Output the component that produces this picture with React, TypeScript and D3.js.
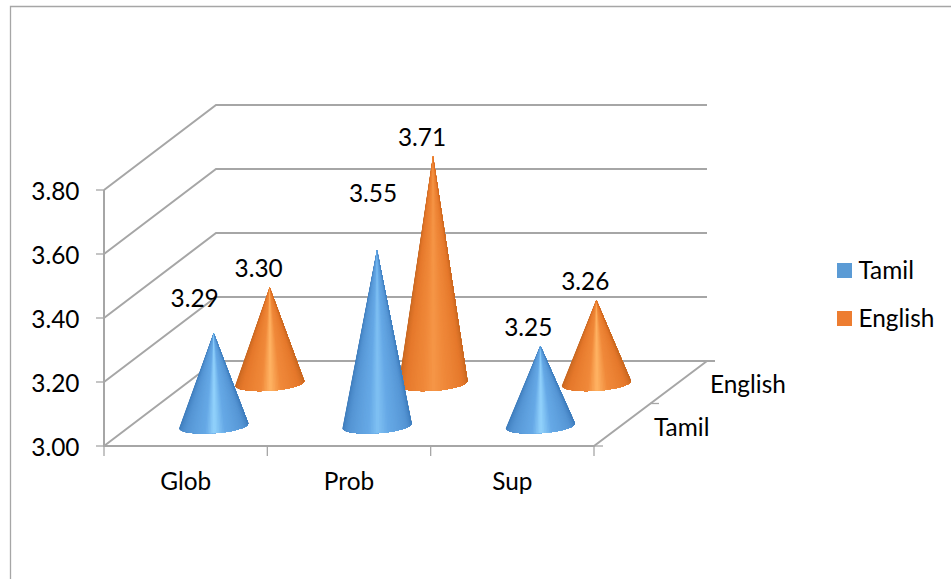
import React from "react";
import * as d3 from "d3";

const categories = ["Glob", "Prob", "Sup"];
const seriesNames = ["Tamil", "English"];
const tamilValues = [3.29, 3.55, 3.25];
const englishValues = [3.3, 3.71, 3.26];
const yTicks = [3.0, 3.2, 3.4, 3.6, 3.8];

// Data label displacement from each cone's apex, [dx, dy] per category.
const tamilLabelOffsets = [[-19, -26], [-4, -48], [-12, -10]];
const englishLabelOffsets = [[-11, -10], [-11, -10], [-11, -10]];

const GRID = "#a6a6a6";
const FONT = "Lato, Carlito, sans-serif";
const FS = 24.4;

// Oblique projection of the 3-D box: the front plane plus a depth shift.
const y3 = d3.scaleLinear().domain([3.0, 3.8]).range([446, 190]);
const xFront = d3.scaleLinear().domain([0, 3]).range([104, 594]);
const depthX = d3.scaleLinear().domain([0, 1]).range([0, 112]);
const depthY = d3.scaleLinear().domain([0, 1]).range([0, -85]);

const coneRadius = 34.5;
const coneRy = 7.5;
const coneTilt = -0.07;
const coneLift = 1;
const fanSlices = 64;

const seriesDepth = [0.25, 0.75];
const seriesSwatch = ["#5b9bd5", "#ed7d31"];
const seriesData = [tamilValues, englishValues];
const seriesOffsets = [tamilLabelOffsets, englishLabelOffsets];

// Edge, body and highlight tones of the metallic cone shading, per series.
const edgeTones = ["#3a78b8", "#c2641e"];
const bodyTones = ["#5595d4", "#e5782b"];
const midTones = ["#66a9e6", "#f0893a"];
const glowTones = ["#93d3fc", "#ffb464"];

// Shaded surface of a cone: a fan of thin triangles from the apex to the front
// half of its tilted elliptical base, tinted by angle around the axis. Each
// triangle runs under the next one so no seams show between them.
function Cone({ si, cx, cy, apexY }: { si: number; cx: number; cy: number; apexY: number }) {
  const height = cy - apexY;
  // Taller cones have a weaker specular streak.
  const glow = d3.interpolateRgb(glowTones[si], midTones[si])(
    Math.min(0.75, Math.max(0, (height - 95) / 190))
  );
  const shade = d3
    .scaleLinear<string>()
    .domain([0, 0.2, 0.42, 0.5, 0.6, 0.82, 1])
    .range([edgeTones[si], bodyTones[si], midTones[si], glow, midTones[si], bodyTones[si], edgeTones[si]])
    .interpolate(d3.interpolateRgb);

  const rim = (t: number): [number, number] => {
    const a = Math.PI * (1 - t);
    const ex = coneRadius * Math.cos(a);
    const ey = coneRy * Math.sin(a);
    return [cx + ex - ey * coneTilt, cy + ey + ex * coneTilt];
  };

  return (
    <g>
      {d3.range(fanSlices).map((k) => {
        const t0 = k / fanSlices;
        // The rest of the rim is included so later slices paint over this one.
        const rimPts = d3
          .range(k, fanSlices + 1)
          .map((j) => rim(j / fanSlices).join(","))
          .join("L");
        return (
          <path
            key={k}
            d={`M${cx},${apexY}L${rimPts}Z`}
            fill={shade(t0 + 0.5 / fanSlices)}
          />
        );
      })}
    </g>
  );
}

export default function App() {
  const dx = depthX(1);
  const dy = depthY(1);
  const base = y3(3.0);
  const right = xFront(3);
  const backRight = right + dx + 1;

  return (
    <svg
      width={951}
      height={579}
      viewBox="0 0 951 579"
      style={{ position: "fixed", left: 0, top: 0, background: "#fff" }}
      fontFamily={FONT}
      fontSize={FS}
      fill="#000"
    >
      {/* Outer chart frame: only the top and left edges fall inside the view */}
      <path d="M10.5,579V6.5H951" fill="none" stroke={GRID} strokeWidth={1.3} />

      {/* Walls and floor gridlines */}
      <g fill="none" stroke={GRID} strokeWidth={2}>
        {yTicks.map((t) => (
          <path
            key={t}
            d={`M${xFront(0)},${y3(t)}L${xFront(0) + dx},${y3(t) + dy}H${backRight + (t === 3 ? 8 : 0)}`}
          />
        ))}
        <path d={`M${xFront(0)},${y3(3.8)}V${base}H${right}L${backRight},${base + dy}`} />
        {yTicks.map((t) => (
          <path key={t} d={`M${xFront(0) - 8},${y3(t)}H${xFront(0)}`} strokeWidth={1.3} />
        ))}
        {d3.range(0, 4).map((i) => (
          <path key={i} d={`M${xFront(i)},${base}V${base + 10}`} strokeWidth={1.3} />
        ))}
        {[0, 0.5].map((d) => (
          <path key={d} d={`M${right + depthX(d)},${base + depthY(d)}h9`} strokeWidth={1.3} />
        ))}
      </g>

      {/* Value axis labels */}
      <g textAnchor="end">
        {yTicks.map((t) => (
          <text key={t} x={79.5} y={y3(t) + 9.5}>
            {d3.format(".2f")(t)}
          </text>
        ))}
      </g>

      {/* Category axis labels */}
      <g textAnchor="middle">
        {categories.map((c, i) => (
          <text key={c} x={xFront(i + 0.5)} y={489.5}>
            {c}
          </text>
        ))}
      </g>

      {/* Depth axis labels */}
      {seriesNames.map((s, i) => (
        <text
          key={s}
          x={right + depthX(seriesDepth[i]) + 32}
          y={base + depthY(seriesDepth[i]) + 11}
        >
          {s}
        </text>
      ))}

      {/* Cones, rear series first so the front series overlaps it */}
      {[1, 0].map((si) =>
        seriesData[si].map((v, i) => {
          const cx = xFront(i + 0.5) + depthX(seriesDepth[si]);
          const cy = y3(3.0) + depthY(seriesDepth[si]) + coneLift;
          const apexY = cy - (y3(3.0) - y3(v));
          return <Cone key={`${si}-${i}`} si={si} cx={cx} cy={cy} apexY={apexY} />;
        })
      )}

      {/* Data labels */}
      <g textAnchor="middle">
        {[0, 1].map((si) =>
          seriesData[si].map((v, i) => {
            const cx = xFront(i + 0.5) + depthX(seriesDepth[si]);
            const cy = y3(3.0) + depthY(seriesDepth[si]) + coneLift;
            const apexY = cy - (y3(3.0) - y3(v));
            const [ox, oy] = seriesOffsets[si][i];
            return (
              <text key={`${si}-${i}`} x={cx + ox} y={apexY + oy}>
                {d3.format(".2f")(v)}
              </text>
            );
          })
        )}
      </g>

      {/* Legend */}
      {seriesNames.map((s, i) => (
        <g key={s} transform={`translate(837,${263 + i * 48})`}>
          <rect width={15} height={15} fill={seriesSwatch[i]} />
          <text x={21.5} y={15.5}>
            {s}
          </text>
        </g>
      ))}
    </svg>
  );
}
